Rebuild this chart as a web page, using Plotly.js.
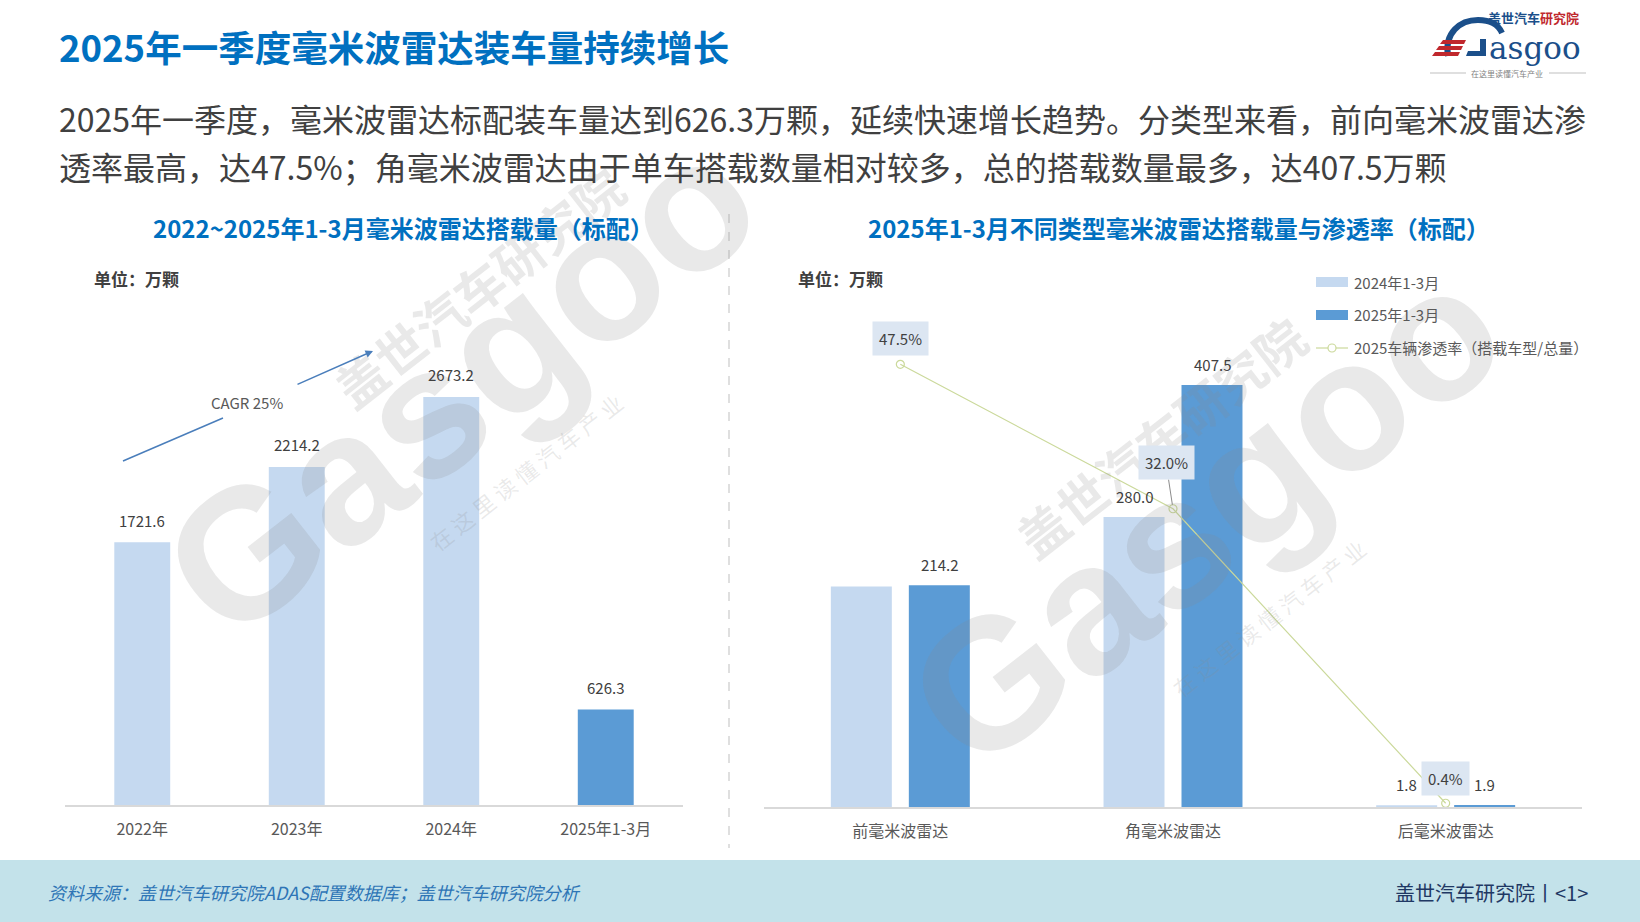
<!DOCTYPE html>
<html>
<head>
<meta charset="utf-8">
<script src="https://cdn.plot.ly/plotly-3.0.1.min.js"></script>
<style>
html,body{margin:0;padding:0;background:#fff;}
#chart{width:1640px;height:922px;}
</style>
</head>
<body>
<div id="chart"></div>
<script>
// ---------- DATA ----------
const years = ['2022年', '2023年', '2024年', '2025年1-3月'];
const yearVolumes = [1721.6, 2214.2, 2673.2, 626.3];

const radarTypes = ['前毫米波雷达', '角毫米波雷达', '后毫米波雷达'];
const vol2024Q1 = [213.0, 280.0, 1.8];
const vol2025Q1 = [214.2, 407.5, 1.9];
const showLabel2024 = [false, true, true];
const penetration2025 = [47.5, 32.0, 0.4];

const seriesNames = ['2024年1-3月', '2025年1-3月', '2025车辆渗透率（搭载车型/总量）'];

const mainTitle = '2025年一季度毫米波雷达装车量持续增长';
const summaryLines = [
  '2025年一季度，毫米波雷达标配装车量达到626.3万颗，延续快速增长趋势。分类型来看，前向毫米波雷达渗',
  '透率最高，达47.5%；角毫米波雷达由于单车搭载数量相对较多，总的搭载数量最多，达407.5万颗'
];
const leftTitle = '2022~2025年1-3月毫米波雷达搭载量（标配）';
const rightTitle = '2025年1-3月不同类型毫米波雷达搭载量与渗透率（标配）';
const unitText = '单位：万颗';
const cagrText = 'CAGR 25%';
const sourceText = '资料来源：盖世汽车研究院ADAS配置数据库；盖世汽车研究院分析';
const footerRight = '盖世汽车研究院丨&lt;1&gt;';

// ---------- STYLE ----------
const W = 1640, H = 922;
const X = p => p / W;
const Y = p => 1 - p / H;
const FONT = '"Noto Sans CJK SC", "Noto Sans", sans-serif';
const LIGHT = '#C5D9F0';
const DARK = '#5B9BD5';
const OLIVE = '#CBD99B';
const BLUE = '#0070C0';
const TXT = '#404040';
const LABELBG = '#DCE6F2';
const NAVY = '#1B4F8A';
const RED = '#C0282D';

// ---------- TRACES ----------
const traces = [
  {
    type: 'bar', x: years, y: yearVolumes, xaxis: 'x', yaxis: 'y',
    width: 0.362,
    marker: { color: years.map((_, i) => i === years.length - 1 ? DARK : LIGHT) },
    hoverinfo: 'x+y', showlegend: false
  },
  {
    type: 'bar', name: seriesNames[0], x: radarTypes, y: vol2024Q1, xaxis: 'x2', yaxis: 'y2',
    marker: { color: LIGHT }, showlegend: false
  },
  {
    type: 'bar', name: seriesNames[1], x: radarTypes, y: vol2025Q1, xaxis: 'x2', yaxis: 'y2',
    marker: { color: DARK }, showlegend: false
  },
  {
    type: 'scatter', mode: 'lines+markers', name: seriesNames[2], x: radarTypes, y: penetration2025,
    xaxis: 'x2', yaxis: 'y3',
    line: { color: OLIVE, width: 1.2 },
    marker: { symbol: 'circle-open', size: 8, color: OLIVE, line: { width: 1.2 } },
    showlegend: false
  }
];

// ---------- ANNOTATIONS ----------
const ann = [];
function txt(x, y, text, size, color, opts) {
  ann.push(Object.assign({
    xref: 'paper', yref: 'paper', x: X(x), y: Y(y), text: text, showarrow: false,
    xanchor: 'left', yanchor: 'middle',
    font: { family: FONT, size: size, color: color }
  }, opts || {}));
}

// watermark
const WM = 'rgba(140,140,140,0.19)';
function watermark(cx, cy, tx, ty, sx, sy) {
  ann.push({ xref: 'paper', yref: 'paper', x: X(cx), y: Y(cy), text: 'Gasgoo', showarrow: false,
    textangle: -38, xanchor: 'center', yanchor: 'middle',
    font: { family: '"Liberation Sans", Arial, sans-serif', size: 185, color: WM, weight: 'bold' } });
  ann.push({ xref: 'paper', yref: 'paper', x: X(tx), y: Y(ty), text: '盖世汽车研究院', showarrow: false,
    textangle: -38, xanchor: 'center', yanchor: 'middle',
    font: { family: FONT, size: 50, color: WM, weight: 'bold' } });
  ann.push({ xref: 'paper', yref: 'paper', x: X(sx), y: Y(sy), text: '在 这 里 读 懂 汽 车 产 业', showarrow: false,
    textangle: -38, xanchor: 'center', yanchor: 'middle',
    font: { family: FONT, size: 22, color: WM } });
}
watermark(460, 385, 478, 286, 525, 472);
watermark(1205, 515, 1160, 436, 1268, 618);

// header
txt(57, 47, mainTitle, 36.5, BLUE, { font: { family: FONT, size: 36.5, color: BLUE, weight: 'bold' } });
txt(57, 118, summaryLines[0], 32, TXT);
txt(57, 166, summaryLines[1], 32, TXT);

// chart titles
txt(403, 227, leftTitle, 24, BLUE, { xanchor: 'center', font: { family: FONT, size: 24, color: BLUE, weight: 'bold' } });
txt(1179, 227, rightTitle, 24, BLUE, { xanchor: 'center', font: { family: FONT, size: 24, color: BLUE, weight: 'bold' } });

// unit labels
txt(92, 279, unitText, 17, TXT, { font: { family: FONT, size: 17, color: TXT, weight: 'bold' } });
txt(796, 279, unitText, 17, TXT, { font: { family: FONT, size: 17, color: TXT, weight: 'bold' } });

// left bar value labels
years.forEach((c, i) => {
  ann.push({ xref: 'x', yref: 'y', x: c, y: yearVolumes[i], text: yearVolumes[i].toFixed(1),
    showarrow: false, yshift: 22, xanchor: 'center', yanchor: 'middle',
    font: { family: FONT, size: 15, color: TXT } });
});

// right bar value labels
radarTypes.forEach((c, i) => {
  if (showLabel2024[i]) {
    ann.push({ xref: 'x2', yref: 'y2', x: c, y: vol2024Q1[i], text: vol2024Q1[i].toFixed(1),
      showarrow: false, yshift: 21, xshift: -39, xanchor: 'center', yanchor: 'middle',
      font: { family: FONT, size: 15, color: TXT } });
  }
  ann.push({ xref: 'x2', yref: 'y2', x: c, y: vol2025Q1[i], text: vol2025Q1[i].toFixed(1),
    showarrow: false, yshift: 21, xshift: 39, xanchor: 'center', yanchor: 'middle',
    font: { family: FONT, size: 15, color: TXT } });
});

// penetration labels
const penStyle = [{ dy: 26 }, { arrow: true, ax: -7, ay: -46 }, { dy: 25 }];
radarTypes.forEach((c, i) => {
  const s = penStyle[i];
  const a = { xref: 'x2', yref: 'y3', x: c, y: penetration2025[i], text: penetration2025[i].toFixed(1) + '%',
    bgcolor: LABELBG, borderpad: 6, xanchor: 'center', yanchor: 'middle',
    font: { family: FONT, size: 15, color: TXT } };
  if (s.arrow) {
    Object.assign(a, { showarrow: true, ax: s.ax, ay: s.ay, arrowhead: 0, arrowwidth: 1,
      arrowcolor: '#8C8C8C', standoff: 4 });
  } else {
    Object.assign(a, { showarrow: false, yshift: s.dy });
  }
  ann.push(a);
});

// CAGR arrow and text
ann.push({ xref: 'paper', yref: 'paper', x: X(373), y: Y(351), ax: -77, ay: 34, text: '',
  showarrow: true, arrowhead: 2, arrowsize: 1, arrowwidth: 1.5, arrowcolor: '#4A7EBB' });
txt(247, 402, cagrText, 15, '#595959', { xanchor: 'center' });

// legend texts
txt(1352, 282, seriesNames[0], 15, '#595959');
txt(1352, 315, seriesNames[1], 15, '#595959');
txt(1352, 348, seriesNames[2], 15, '#595959');

// footer
txt(46, 892, sourceText, 18, '#2E75B6', { font: { family: FONT, size: 18, color: '#2E75B6', style: 'italic' } });
txt(1590, 892, footerRight, 20, '#1F3864', { xanchor: 'right' });

// logo
txt(1533, 18, '<span style="color:#1B4F8A">盖世汽车</span><span style="color:#C0282D">研究院</span>', 13, NAVY,
  { xanchor: 'center', font: { family: FONT, size: 13, color: NAVY, weight: 'bold' } });
txt(1487, 48.5, 'asgoo', 31, NAVY, { font: { family: '"DejaVu Serif", serif', size: 31, color: NAVY } });
txt(1507, 73, '在这里读懂汽车产业', 8, '#7F7F7F', { xanchor: 'center' });

// ---------- SHAPES ----------
const shapes = [
  // footer band
  { type: 'rect', xref: 'paper', yref: 'paper', x0: 0, x1: 1, y0: Y(922), y1: Y(860),
    fillcolor: '#C3E2EA', line: { width: 0 }, layer: 'below' },
  // divider
  { type: 'line', xref: 'paper', yref: 'paper', x0: X(729), x1: X(729), y0: Y(214), y1: Y(848),
    line: { color: '#BFBFBF', width: 1, dash: 'dash' } },
  // CAGR lower segment
  { type: 'line', xref: 'paper', yref: 'paper', x0: X(123), y0: Y(461), x1: X(223), y1: Y(418),
    line: { color: '#4A7EBB', width: 1.5 } },
  // legend swatches
  { type: 'rect', xref: 'paper', yref: 'paper', x0: X(1316), x1: X(1348), y0: Y(287), y1: Y(277),
    fillcolor: LIGHT, line: { width: 0 } },
  { type: 'rect', xref: 'paper', yref: 'paper', x0: X(1316), x1: X(1348), y0: Y(320), y1: Y(310),
    fillcolor: DARK, line: { width: 0 } },
  { type: 'line', xref: 'paper', yref: 'paper', x0: X(1316), x1: X(1348), y0: Y(348), y1: Y(348),
    line: { color: OLIVE, width: 1.2 } },
  { type: 'circle', xref: 'paper', yref: 'paper', x0: X(1328), x1: X(1336), y0: Y(352), y1: Y(344),
    fillcolor: 'white', line: { color: OLIVE, width: 1.2 } },
  // logo: G arc
  { type: 'path', xref: 'paper', yref: 'paper',
    path: `M ${X(1448)} ${Y(56)} C ${X(1444)} ${Y(33)} ${X(1460)} ${Y(20)} ${X(1478)} ${Y(20)} C ${X(1492)} ${Y(20)} ${X(1499)} ${Y(26)} ${X(1502)} ${Y(33)}`,
    line: { color: NAVY, width: 6 } },
  { type: 'path', xref: 'paper', yref: 'paper',
    path: `M ${X(1466)} ${Y(56)} L ${X(1486)} ${Y(56)} L ${X(1486)} ${Y(39)} L ${X(1480)} ${Y(39)} L ${X(1480)} ${Y(51)} L ${X(1468)} ${Y(51)} Z`,
    fillcolor: NAVY, line: { width: 0 } },
  { type: 'path', xref: 'paper', yref: 'paper',
    path: `M ${X(1440)} ${Y(44)} L ${X(1464)} ${Y(44)} L ${X(1466)} ${Y(40)} L ${X(1443)} ${Y(40)} Z`,
    fillcolor: RED, line: { width: 0 } },
  { type: 'path', xref: 'paper', yref: 'paper',
    path: `M ${X(1436)} ${Y(50)} L ${X(1461)} ${Y(50)} L ${X(1463)} ${Y(46)} L ${X(1439)} ${Y(46)} Z`,
    fillcolor: RED, line: { width: 0 } },
  { type: 'path', xref: 'paper', yref: 'paper',
    path: `M ${X(1432)} ${Y(56)} L ${X(1458)} ${Y(56)} L ${X(1460)} ${Y(52)} L ${X(1435)} ${Y(52)} Z`,
    fillcolor: RED, line: { width: 0 } },
  { type: 'line', xref: 'paper', yref: 'paper', x0: X(1430), x1: X(1466), y0: Y(73), y1: Y(73),
    line: { color: '#BFBFBF', width: 1 } },
  { type: 'line', xref: 'paper', yref: 'paper', x0: X(1549), x1: X(1586), y0: Y(73), y1: Y(73),
    line: { color: '#BFBFBF', width: 1 } }
];

// ---------- LAYOUT ----------
const xCommon = {
  type: 'category', showline: true, linecolor: '#D9D9D9', linewidth: 2, showgrid: false, zeroline: false,
  ticks: 'outside', ticklen: 9, tickcolor: 'rgba(0,0,0,0)',
  tickfont: { family: FONT, size: 16, color: '#595959' }, fixedrange: true
};
const layout = {
  width: W, height: H,
  margin: { l: 0, r: 0, t: 0, b: 0 },
  paper_bgcolor: '#FFFFFF', plot_bgcolor: 'rgba(0,0,0,0)',
  showlegend: false,
  barmode: 'group', bargap: 0.428, bargroupgap: 0.218,
  font: { family: FONT, color: TXT },
  xaxis: Object.assign({}, xCommon, { domain: [X(65), X(683)], anchor: 'y' }),
  yaxis: { domain: [Y(805), Y(347)], range: [0, 3000], visible: false, fixedrange: true },
  xaxis2: Object.assign({}, xCommon, { domain: [X(764), X(1582)], anchor: 'y2' }),
  yaxis2: { domain: [Y(807), Y(341)], range: [0, 450], visible: false, fixedrange: true },
  yaxis3: { overlaying: 'y2', range: [0, 50], visible: false, fixedrange: true },
  annotations: ann,
  shapes: shapes
};

Plotly.newPlot('chart', traces, layout, { displayModeBar: false, staticPlot: true });
</script>
</body>
</html>
